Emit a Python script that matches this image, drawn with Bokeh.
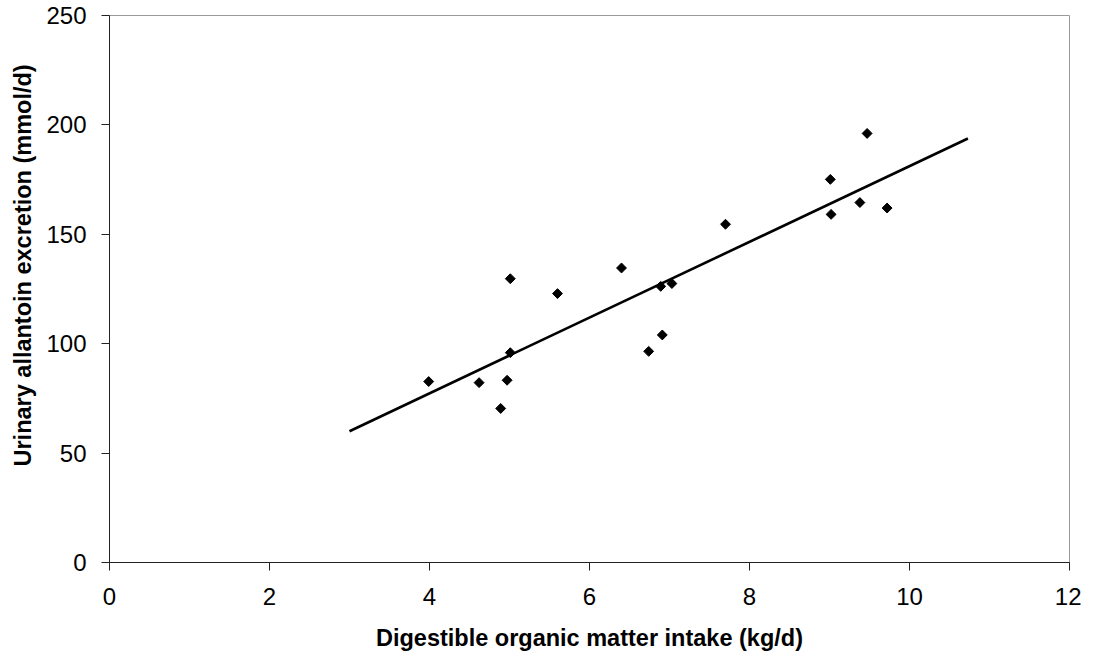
from bokeh.plotting import figure
from bokeh.models import Range1d, FixedTicker, Title
from bokeh.embed import file_html
from bokeh.resources import INLINE
import numpy as np

# Data
dom_intake = [3.99, 4.62, 4.89, 4.97, 5.01, 5.01, 5.60, 6.40, 6.74, 6.89,
              6.91, 7.03, 7.70, 9.01, 9.02, 9.38, 9.47, 9.72]
allantoin = [82.7, 82.2, 70.4, 83.3, 95.9, 129.7, 122.9, 134.6, 96.5, 126.2,
             104.0, 127.5, 154.6, 175.1, 159.1, 164.5, 196.1, 162.0]
trend_x = [3.0, 10.73]
trend_y = [60.0, 193.8]
x_ticks = [0, 2, 4, 6, 8, 10, 12]
y_ticks = [0, 50, 100, 150, 200, 250]
x_title = "Digestible organic matter intake (kg/d)"
y_title = "Urinary allantoin excretion  (mmol/d)"

FONT = "Liberation Sans"

p = figure(output_backend="svg", toolbar_location=None,
           frame_width=960, frame_height=547,
           min_border_left=109, min_border_top=15,
           min_border_right=12, min_border_bottom=20,
           x_range=Range1d(0, 12), y_range=Range1d(0, 250))
p.background_fill_color = "white"
p.border_fill_color = "white"
p.outline_line_color = "#999999"
p.outline_line_width = 1
p.xgrid.visible = False
p.ygrid.visible = False

p.line(trend_x, trend_y, line_color="black", line_width=2.6)
p.scatter(dom_intake, allantoin, marker="square", angle=np.pi / 4,
          size=7, fill_color="black", line_color="black")

for ax in (p.xaxis[0], p.yaxis[0]):
    ax.axis_line_color = "#222222"
    ax.major_tick_line_color = "#222222"
    ax.major_tick_out = 8
    ax.major_tick_in = 0
    ax.minor_tick_line_color = None
    ax.major_label_text_font = FONT
    ax.major_label_text_font_size = "24px"
    ax.major_label_text_color = "black"

p.xaxis.ticker = FixedTicker(ticks=x_ticks)
p.yaxis.ticker = FixedTicker(ticks=y_ticks)
p.xaxis.axis_label = x_title
p.xaxis.axis_label_text_font = FONT
p.xaxis.axis_label_text_font_style = "bold"
p.xaxis.axis_label_text_font_size = "23.5px"
p.xaxis.axis_label_text_color = "black"
p.xaxis.major_label_standoff = 17
p.xaxis.axis_label_standoff = 17
p.yaxis.major_label_standoff = 15

# y-axis title, positioned like the original (not centred on the axis)
ytitle = Title(text=y_title, align="left", offset=96,
               vertical_align="middle", standoff=14,
               text_font=FONT, text_font_style="bold",
               text_font_size="23.5px", text_color="black")
p.add_layout(ytitle, "left")

open("out.html", "w").write(file_html(p, INLINE))
